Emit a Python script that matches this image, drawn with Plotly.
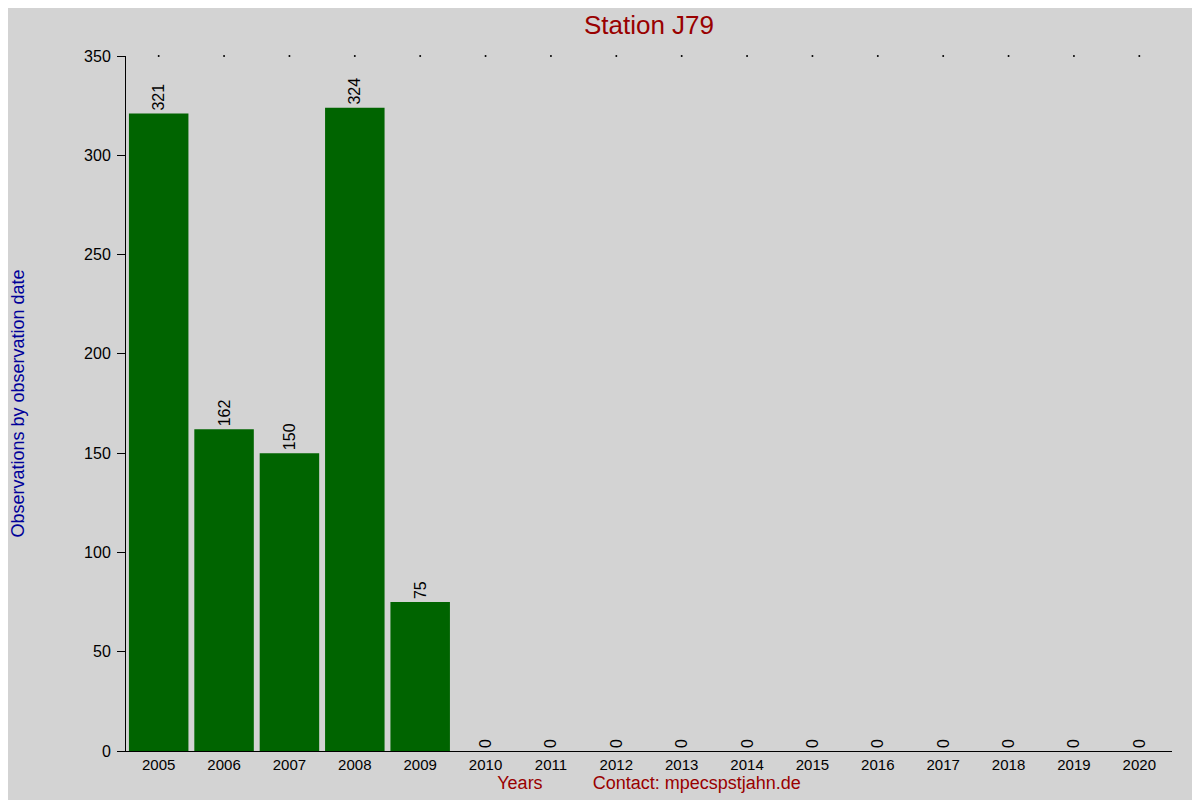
import plotly.graph_objects as go

# data
years = ["2005", "2006", "2007", "2008", "2009", "2010", "2011", "2012",
         "2013", "2014", "2015", "2016", "2017", "2018", "2019", "2020"]
observations = [321, 162, 150, 324, 75, 0, 0, 0, 0, 0, 0, 0, 0, 0, 0, 0]
y_ticks = [0, 50, 100, 150, 200, 250, 300, 350]

y_max = y_ticks[-1]
font_name = "Liberation Sans, Arial, sans-serif"

fig = go.Figure()

fig.add_trace(go.Bar(
    x=years, y=observations,
    marker=dict(color="#006400", line=dict(width=0)),
    text=[str(v) for v in observations],
    textposition="outside", textangle=-90,
    constraintext="none", cliponaxis=False,
    textfont=dict(family=font_name, size=16, color="black"),
    showlegend=False,
))

# small dots along the top edge, one per year
fig.add_trace(go.Scatter(
    x=years, y=[y_max] * len(years), mode="markers",
    marker=dict(color="black", size=2), cliponaxis=False,
    showlegend=False, hoverinfo="skip",
))

# the page body adds an 8px offset, margins are shifted to compensate
fig.update_layout(
    width=1200, height=800,
    paper_bgcolor="#d3d3d3", plot_bgcolor="#d3d3d3",
    margin=dict(l=118, r=36, t=48, b=57, autoexpand=False),
    bargap=0.09,
    font=dict(family=font_name, size=15, color="black"),
    title=dict(text="Station J79", xref="paper", x=0.5, xanchor="center",
               y=0.99, yanchor="top",
               font=dict(family=font_name, size=26, color="#990000")),
    xaxis=dict(
        range=[-0.5, len(years) - 0.5],
        automargin=False,
        showline=True, linecolor="black", linewidth=1,
        ticks="", showgrid=False, zeroline=False,
        tickfont=dict(size=15),
        title=dict(text="Years" + "\u00a0" * 10 + "Contact: mpecspstjahn.de",
                   font=dict(size=18, color="#990000"), standoff=4),
    ),
    yaxis=dict(
        range=[0, y_max], tickvals=y_ticks,
        automargin=False,
        showline=True, linecolor="black", linewidth=1,
        ticks="outside", ticklen=8, tickcolor="black",
        ticklabelstandoff=3,
        showgrid=False, zeroline=False,
        tickfont=dict(size=16),
        title=dict(text="Observations by observation date",
                   font=dict(size=18, color="#000099"), standoff=60),
    ),
)

fig.write_html("out.html")
